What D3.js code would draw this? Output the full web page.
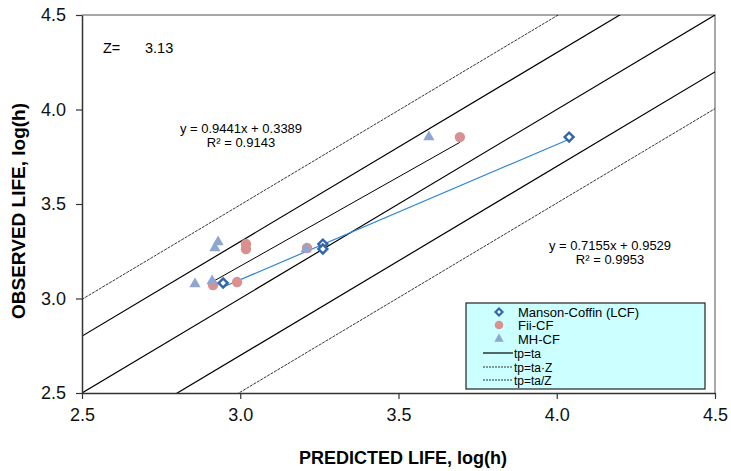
<!DOCTYPE html>
<html lang="en">
<head>
<meta charset="UTF-8">
<title>Observed vs predicted life</title>
<script src="https://d3js.org/d3.v7.min.js"></script>
<style>
  body { margin: 0; background: #fff; }
  svg text { font-family: "Liberation Sans", Arial, sans-serif; }
</style>
</head>
<body>
<div id="chart"></div>
<script>
// scatter factor
var Z = 3.13;

// Manson-Coffin (LCF)
var mcX = [2.946, 3.261, 3.261, 4.039];
var mcY = [3.082, 3.288, 3.262, 3.854];
// Fii-CF
var fiiX = [2.914, 2.990, 3.018, 3.018, 3.211, 3.694];
var fiiY = [3.071, 3.087, 3.288, 3.262, 3.267, 3.854];
// MH-CF
var mhX = [2.857, 2.911, 2.920, 2.930, 3.208, 3.596];
var mhY = [3.071, 3.087, 3.262, 3.294, 3.257, 3.849];

// trendlines [slope, intercept]
var mcFit = [0.7155, 0.9529];
var fiiFit = [0.9441, 0.3389];

var ticks = [2.5, 3.0, 3.5, 4.0, 4.5];

var width = 731, height = 471;
var pL = 82, pR = 715, pT = 15, pB = 393;

var svg = d3.select("#chart").append("svg")
    .attr("width", width)
    .attr("height", height);

var x = d3.scaleLinear().domain([2.5, 4.5]).range([pL, pR]);
var y = d3.scaleLinear().domain([2.5, 4.5]).range([pB, pT]);

svg.append("clipPath").attr("id", "clip")
  .append("rect")
    .attr("x", pL).attr("y", pT)
    .attr("width", pR - pL).attr("height", pB - pT);

// frame: grey top and right
svg.append("path")
    .attr("d", "M" + pL + "," + pT + "H" + pR + "V" + pB)
    .attr("fill", "none")
    .attr("stroke", "#8c8c8c")
    .attr("stroke-width", 1.5);

// reference lines y = x + offset
var lg2 = Math.log10(2), lgZ = Math.log10(Z);
var refLines = [
  { off: 0, dash: null, w: 1.2 },
  { off: lg2, dash: null, w: 1.2 },
  { off: -lg2, dash: null, w: 1.2 },
  { off: lgZ, dash: "3,1", w: 0.8 },
  { off: -lgZ, dash: "3,1", w: 0.8 }
];

var g = svg.append("g").attr("clip-path", "url(#clip)");

g.selectAll(".ref")
  .data(refLines)
  .enter().append("line")
    .attr("class", "ref")
    .attr("x1", x(2.0)).attr("y1", function(d) { return y(2.0 + d.off); })
    .attr("x2", x(5.0)).attr("y2", function(d) { return y(5.0 + d.off); })
    .attr("stroke", "#000")
    .attr("stroke-width", function(d) { return d.w; })
    .attr("stroke-dasharray", function(d) { return d.dash; });

// trendlines over the x range of each series
function trend(xs, fit, color, w) {
  var x0 = d3.min(xs), x1 = d3.max(xs);
  g.append("line")
    .attr("x1", x(x0)).attr("y1", y(fit[0] * x0 + fit[1]))
    .attr("x2", x(x1)).attr("y2", y(fit[0] * x1 + fit[1]))
    .attr("stroke", color)
    .attr("stroke-width", w);
}
trend(fiiX, fiiFit, "#000", 1);
trend(mcX, mcFit, "#2e86d4", 1.2);

// markers
g.selectAll(".fii").data(d3.range(fiiX.length)).enter().append("circle")
    .attr("cx", function(i) { return x(fiiX[i]); })
    .attr("cy", function(i) { return y(fiiY[i]); })
    .attr("r", 5.2)
    .attr("fill", "#d9908e");

var tri = d3.symbol().type(d3.symbolTriangle).size(55);
g.selectAll(".mh").data(d3.range(mhX.length)).enter().append("path")
    .attr("d", tri)
    .attr("transform", function(i) { return "translate(" + x(mhX[i]) + "," + (y(mhY[i]) - 1) + ")"; })
    .attr("fill", "#8fa6d2");

// diamond = square turned 45deg
var dia = d3.symbol().type(d3.symbolSquare).size(40);
g.selectAll(".mc").data(d3.range(mcX.length)).enter().append("path")
    .attr("d", dia)
    .attr("transform", function(i) { return "translate(" + x(mcX[i]) + "," + y(mcY[i]) + ") rotate(45)"; })
    .attr("fill", "#fff")
    .attr("stroke", "#3366a8")
    .attr("stroke-width", 2.4);

// axes
var xAxis = svg.append("g")
    .attr("transform", "translate(0," + pB + ")")
    .call(d3.axisBottom(x).tickValues(ticks).tickFormat(d3.format(".1f"))
      .tickSize(6).tickSizeOuter(0).tickPadding(9));
var yAxis = svg.append("g")
    .attr("transform", "translate(" + pL + ",0)")
    .call(d3.axisLeft(y).tickValues(ticks).tickFormat(d3.format(".1f"))
      .tickSize(6).tickSizeOuter(0).tickPadding(10));
[xAxis, yAxis].forEach(function(a) {
  a.select(".domain").attr("stroke", "#333").attr("stroke-width", 1.5);
  a.selectAll(".tick line").attr("stroke", "#333").attr("stroke-width", 1.2);
  a.selectAll(".tick text").attr("fill", "#111")
    .style("font-family", "'Liberation Sans', Arial, sans-serif")
    .style("font-size", "18px");
});

// axis titles
svg.append("text")
    .attr("x", 403).attr("y", 464)
    .attr("text-anchor", "middle")
    .style("font-size", "18px").style("font-weight", "bold")
    .text("PREDICTED LIFE, log(h)");
svg.append("text")
    .attr("transform", "translate(25,211) rotate(-90)")
    .attr("text-anchor", "middle")
    .style("font-size", "19px").style("font-weight", "bold")
    .text("OBSERVED LIFE, log(h)");

// Z label
svg.append("text").attr("x", 103).attr("y", 53).style("font-size", "14.5px").text("Z=");
svg.append("text").attr("x", 145).attr("y", 53).style("font-size", "14.5px").text(Z.toFixed(2));

// equations
function eq(cx, cy, fit, r2) {
  svg.append("text").attr("x", cx).attr("y", cy).attr("text-anchor", "middle")
    .style("font-size", "13px")
    .text("y = " + fit[0].toFixed(4) + "x + " + fit[1].toFixed(4));
  svg.append("text").attr("x", cx).attr("y", cy + 14).attr("text-anchor", "middle")
    .style("font-size", "13px")
    .text("R² = " + r2);
}
eq(241, 133, fiiFit, "0.9143");
eq(610, 250, mcFit, "0.9953");

// legend
var lg = svg.append("g").attr("transform", "translate(466,303)");
lg.append("rect").attr("width", 239).attr("height", 86)
    .attr("fill", "#ccffff").attr("stroke", "#222").attr("stroke-width", 1.2);
var items = [
  { label: "Manson-Coffin (LCF)", kind: "mc" },
  { label: "Fii-CF", kind: "fii" },
  { label: "MH-CF", kind: "mh" },
  { label: "tp=ta", kind: "solid" },
  { label: "tp=ta\u00b7Z", kind: "dash" },
  { label: "tp=ta/Z", kind: "dash" }
];
var rowY = [9, 22, 36, 50, 64, 77];
items.forEach(function(it, i) {
  var yy = rowY[i];
  var mx = 33;
  if (it.kind === "mc") {
    lg.append("path").attr("d", d3.symbol().type(d3.symbolSquare).size(24))
      .attr("transform", "translate(" + mx + "," + yy + ") rotate(45)")
      .attr("fill", "#fff").attr("stroke", "#3366a8").attr("stroke-width", 2.2);
  } else if (it.kind === "fii") {
    lg.append("circle").attr("cx", mx).attr("cy", yy).attr("r", 4.3).attr("fill", "#d9908e");
  } else if (it.kind === "mh") {
    lg.append("path").attr("d", d3.symbol().type(d3.symbolTriangle).size(38))
      .attr("transform", "translate(" + mx + "," + yy + ")").attr("fill", "#8fa6d2");
  } else {
    lg.append("line").attr("x1", 17).attr("x2", 47).attr("y1", yy).attr("y2", yy)
      .attr("stroke", "#000").attr("stroke-width", it.kind === "solid" ? 1.2 : 0.8)
      .attr("stroke-dasharray", it.kind === "dash" ? "2,1" : null);
  }
  var isLine = it.kind === "solid" || it.kind === "dash";
  lg.append("text").attr("x", isLine ? 48 : 52).attr("y", yy + 4.5)
    .style("font-size", isLine ? "12px" : "13px")
    .text(it.label);
});
</script>
</body>
</html>
